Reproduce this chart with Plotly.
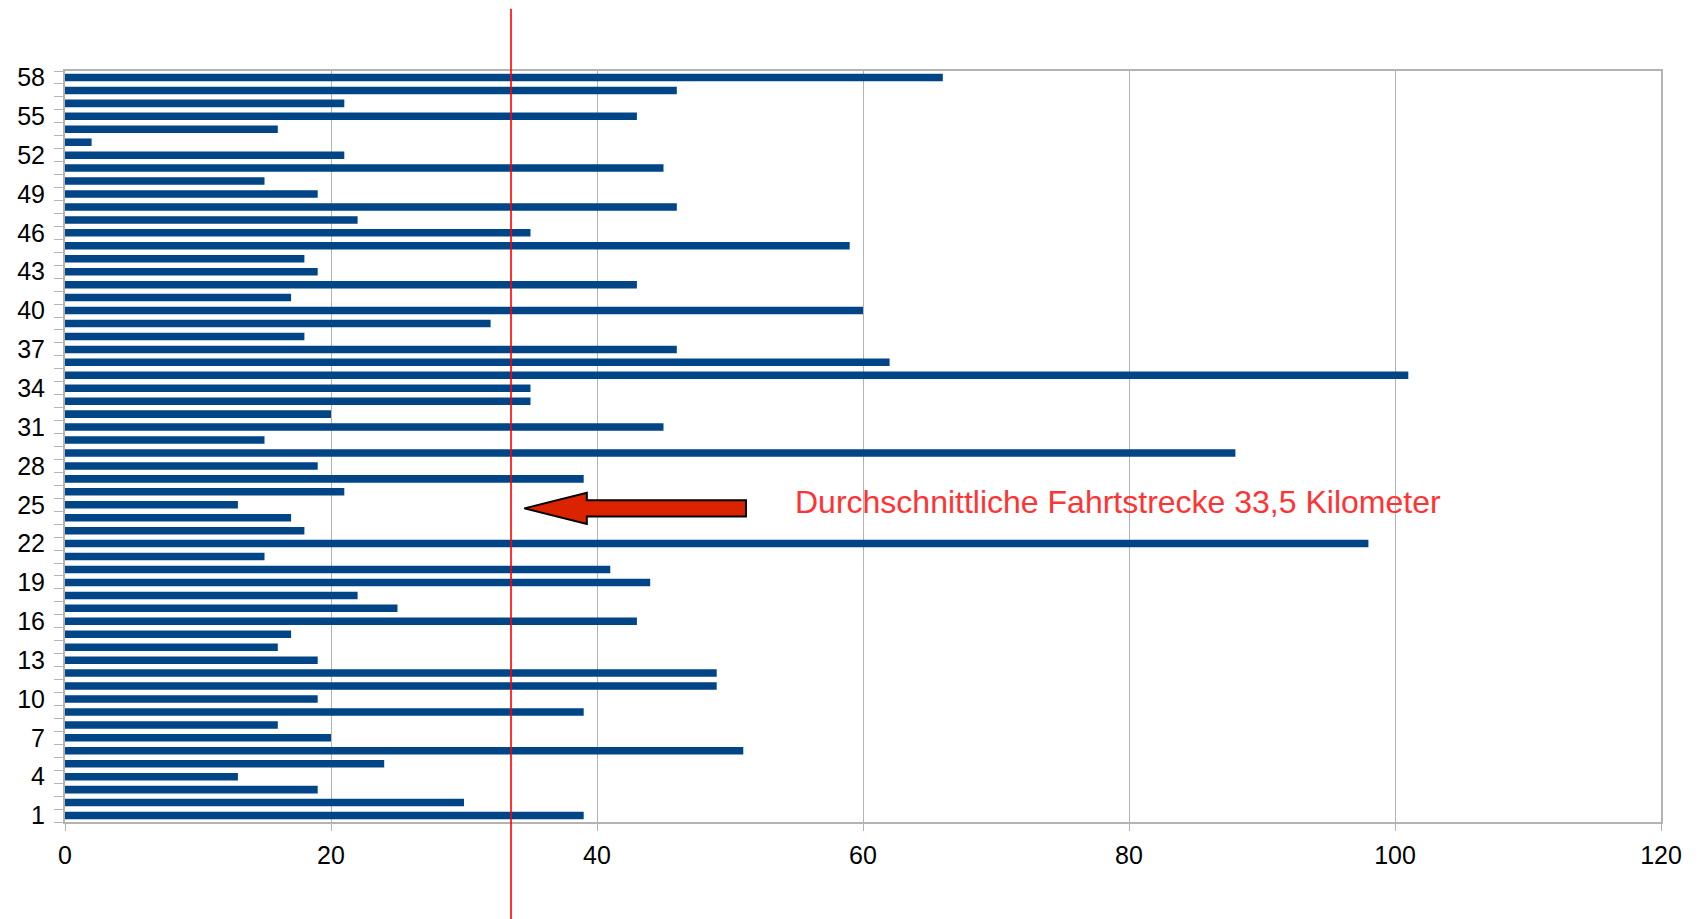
import plotly.graph_objects as go

# Trip numbers (1..58) and the distance driven on each trip, in km
trips = list(range(1, 59))
km = [39, 30, 19, 13, 24, 51, 20, 16, 39, 19,
      49, 49, 19, 16, 17, 43, 25, 22, 44, 41,
      15, 98, 18, 17, 13, 21, 39, 19, 88, 15,
      45, 20, 35, 35, 101, 62, 46, 18, 32, 60,
      17, 43, 19, 18, 59, 35, 22, 46, 19, 15,
      45, 21, 2, 16, 43, 21, 46, 66]
y_ticks = list(range(1, 59, 3))
x_ticks = [0, 20, 40, 60, 80, 100, 120]

avg_km = sum(km) / len(km)
label = "Durchschnittliche Fahrtstrecke " + f"{avg_km:.1f}".replace(".", ",") + " Kilometer"

GRID = "#b3b3b3"
FONT = "Liberation Sans, Arial, sans-serif"

fig = go.Figure()
fig.add_trace(go.Bar(
    x=km, y=trips, orientation="h",
    marker=dict(color="#004586", line=dict(width=0)),
    hoverinfo="x+y",
))

# average line, running past the plot area top and bottom
fig.add_shape(type="line", xref="x", yref="paper",
              x0=avg_km, x1=avg_km, y0=-0.135, y1=1.083,
              line=dict(color="#ff0000", width=1.6), layer="above")

# left-pointing arrow towards the average line
tip = avg_km + 1.0
head = tip + 4.7
tail = 51.2
yc, hh, sh = 24.72, 1.2, 0.62
arrow_path = (f"M {tip},{yc} L {head},{yc + hh} L {head},{yc + sh} "
              f"L {tail},{yc + sh} L {tail},{yc - sh} L {head},{yc - sh} "
              f"L {head},{yc - hh} Z")
fig.add_shape(type="path", xref="x", yref="y", path=arrow_path,
              fillcolor="#dc2300", line=dict(color="#000000", width=2),
              layer="above")

fig.add_annotation(x=54.7, y=25.2, xref="x", yref="y", text=label,
                   showarrow=False, xanchor="left", yanchor="middle",
                   font=dict(family=FONT, size=32, color="#ff3333"))

fig.update_layout(
    width=1699, height=919,
    margin=dict(l=65, r=38, t=71, b=97),
    paper_bgcolor="white", plot_bgcolor="white",
    bargap=0.42, showlegend=False,
    font=dict(family=FONT, size=25, color="#000000"),
    xaxis=dict(range=[0, 120], tickvals=x_ticks, showgrid=True,
               gridcolor=GRID, gridwidth=1, zeroline=False,
               showline=True, linecolor=GRID, linewidth=2, mirror=True,
               ticks="outside", ticklen=7, tickcolor=GRID,
               ticklabelstandoff=3, tickfont=dict(size=25)),
    yaxis=dict(range=[0.5, 58.5], tickvals=y_ticks, showgrid=False,
               zeroline=False, showline=True, linecolor=GRID, linewidth=2,
               mirror=True, ticks="", ticklabelstandoff=13,
               tickfont=dict(size=25),
               minor=dict(tick0=0.5, dtick=1, ticks="outside", ticklen=9,
                          tickcolor=GRID, showgrid=False)),
)

fig.write_html("out.html")
